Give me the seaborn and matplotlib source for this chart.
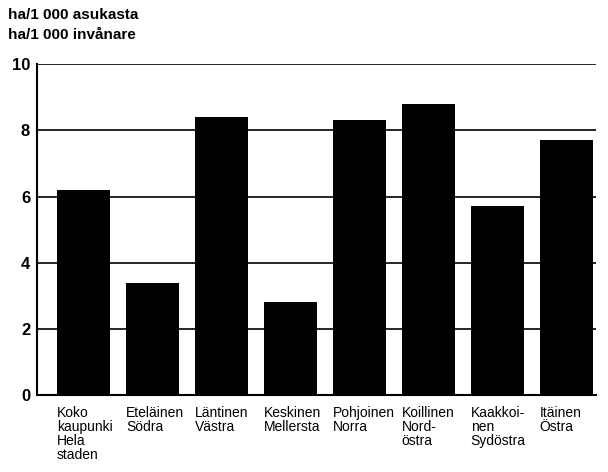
import matplotlib
matplotlib.use("Agg")
import matplotlib.pyplot as plt
import matplotlib.transforms as mtransforms
import seaborn as sns
import pandas as pd
from matplotlib.ticker import MultipleLocator

categories = ["Koko\nkaupunki\nHela\nstaden", "Eteläinen\nSödra", "Läntinen\nVästra",
              "Keskinen\nMellersta", "Pohjoinen\nNorra", "Koillinen\nNord-\nöstra",
              "Kaakkoi-\nnen\nSydöstra", "Itäinen\nÖstra"]
values = [6.2, 3.4, 8.4, 2.8, 8.3, 8.8, 5.7, 7.7]
yticks = [0, 2, 4, 6, 8, 10]
title_lines = ["ha/1 000 asukasta", "ha/1 000 invånare"]

sns.set_style("white")
plt.rcParams["font.family"] = ["Liberation Sans", "DejaVu Sans"]
plt.rcParams["text.color"] = "black"
plt.rcParams["xtick.color"] = "black"
plt.rcParams["ytick.color"] = "black"

df = pd.DataFrame({"cat": categories, "val": values})

fig = plt.figure(figsize=(6.08, 4.72), dpi=100)
ax = fig.add_axes([0.061, 0.163, 0.919, 0.701])

sns.barplot(data=df, x="cat", y="val", color="black", width=0.77,
            saturation=1, ax=ax, zorder=3, linewidth=0, edgecolor="black")

ax.set_ylim(0, 10)
ax.set_xlim(-0.674, 7.43)
ax.set_yticks(yticks)
ax.set_yticklabels([str(t) for t in yticks], fontsize=12, fontweight="bold", color="black")
ax.yaxis.set_minor_locator(MultipleLocator(1))
ax.tick_params(axis="y", which="major", length=0, pad=5, labelcolor="black")
ax.tick_params(axis="y", which="minor", length=4, direction="in", width=0.8, color="black")
ax.tick_params(axis="x", length=0, pad=8, labelcolor="black")
ax.grid(axis="y", color="black", linewidth=1.2, zorder=0)
ax.set_axisbelow(True)

ax.set_xticks(range(len(categories)))
ax.set_xticklabels(categories, fontsize=10, ha="left", va="top", linespacing=1.0,
                   color="black")
offset = mtransforms.ScaledTranslation(-26.5 / 100, 0, fig.dpi_scale_trans)
for lbl in ax.get_xticklabels():
    lbl.set_transform(lbl.get_transform() + offset)

ax.set_xlabel("")
ax.set_ylabel("")

for s in ["top", "right"]:
    ax.spines[s].set_visible(False)
ax.spines["left"].set_color("black")
ax.spines["left"].set_linewidth(1.5)
ax.spines["bottom"].set_color("black")
ax.spines["bottom"].set_linewidth(1.5)

fig.text(8 / 608, 1 - 15 / 472, title_lines[0], fontsize=11, fontweight="bold",
         ha="left", va="center", color="black")
fig.text(8 / 608, 1 - 35 / 472, title_lines[1], fontsize=11, fontweight="bold",
         ha="left", va="center", color="black")

fig.savefig("out.png", dpi=100)
